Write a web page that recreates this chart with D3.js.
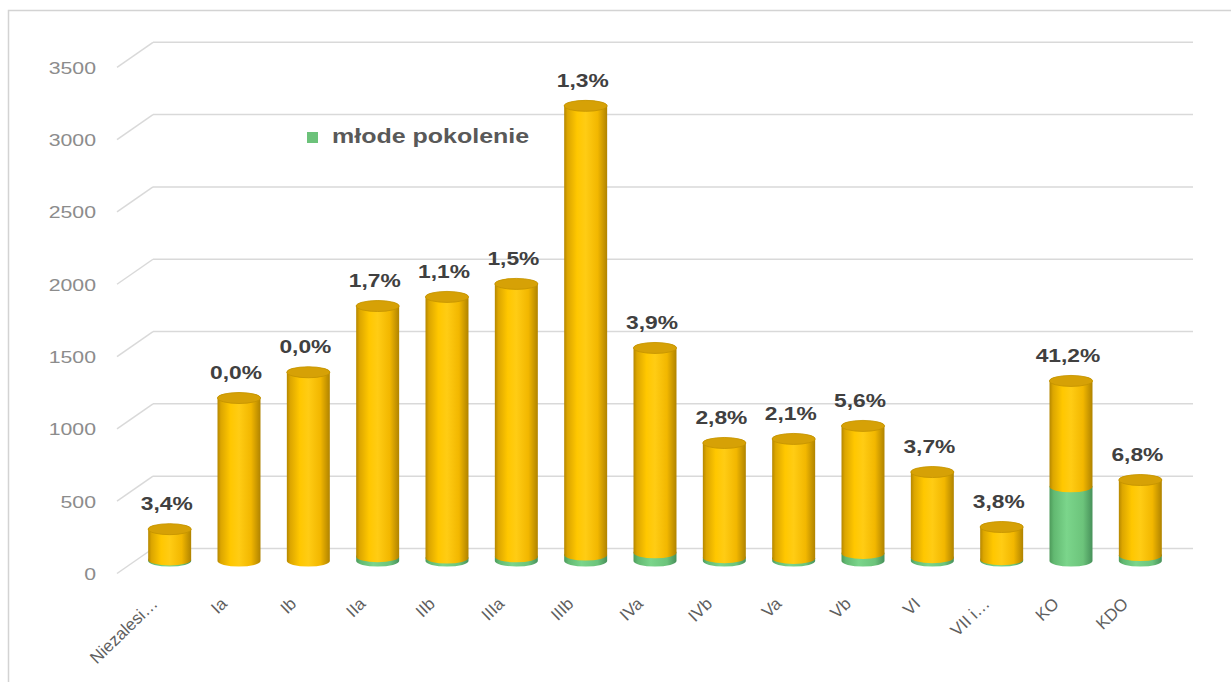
<!DOCTYPE html>
<html>
<head>
<meta charset="utf-8">
<script src="https://cdnjs.cloudflare.com/ajax/libs/d3/7.8.5/d3.min.js"></script>
<style>
  body { margin: 0; background: #fff; }
  text { font-family: "Liberation Sans", Arial, sans-serif; }
</style>
</head>
<body>
<svg id="chart" width="1231" height="682"></svg>
<script>
// categories and values
var categories = ["Niezalesi…", "Ia", "Ib", "IIa", "IIb", "IIIa", "IIIb", "IVa", "IVb", "Va", "Vb", "VI", "VII i…", "KO", "KDO"];
var totals = [220, 1127, 1305, 1763, 1826, 1916, 3147, 1473, 816, 844, 934, 615, 235, 1245, 560];
var young = [7, 0, 0, 30, 20, 29, 41, 57, 23, 18, 52, 23, 9, 513, 38];
var pctLabels = ["3,4%", "0,0%", "0,0%", "1,7%", "1,1%", "1,5%", "1,3%", "3,9%", "2,8%", "2,1%", "5,6%", "3,7%", "3,8%", "41,2%", "6,8%"];
var yTicks = [0, 500, 1000, 1500, 2000, 2500, 3000, 3500];
var legendLabel = "młode pokolenie";

var svg = d3.select("#chart")

// outer frame
svg.append("rect")
  .attr("x", 8.5).attr("y", 10.5)
  .attr("width", 1260).attr("height", 720)
  .style("fill", "#fff")
  .style("stroke", "#d3d3d3")
  .style("stroke-width", 1.5)

var wallLeft = 153, wallRight = 1193
var depthX = 36, depthY = 25   // floor depth of the 3d box

var y = d3.scaleLinear().domain([0, 3500]).range([548.5, 42.3])
var x = d3.scaleBand()
  .domain(categories)
  .range([wallLeft - depthX / 2, wallRight - depthX / 2])
  .paddingInner(0.38)
  .paddingOuter(0.19)

var rx = x.bandwidth() / 2, ry = 5.5
function yBar(v) { return y(v) + depthY / 2 }
function idx(d) { return categories.indexOf(d) }

// gradients for the cylinders
var defs = svg.append("defs")
function sideGradient(id, stops) {
  var g = defs.append("linearGradient").attr("id", id)
    .attr("x1", "0%").attr("x2", "100%").attr("y1", "0%").attr("y2", "0%")
  g.selectAll("stop").data(stops).enter().append("stop")
    .attr("offset", function(d) { return d[0] })
    .attr("stop-color", function(d) { return d[1] })
}
sideGradient("orangeSide", [["0%", "#b58700"], ["8%", "#dca600"], ["30%", "#ffc700"], ["50%", "#ffcc14"], ["78%", "#f2b700"], ["100%", "#b08300"]])
sideGradient("greenSide", [["0%", "#4d9a5a"], ["10%", "#62b971"], ["40%", "#7bd58b"], ["78%", "#6cc47b"], ["100%", "#47915a"]])

// gridlines on back wall + side wall
var grid = svg.append("g")
grid.selectAll("line.back")
  .data(yTicks)
  .enter()
  .append("line")
    .attr("class", "back")
    .attr("x1", wallLeft).attr("x2", wallRight)
    .attr("y1", function(d) { return y(d) }).attr("y2", function(d) { return y(d) })
    .style("stroke", "#d9d9d9").style("stroke-width", 1.5)
grid.selectAll("line.side")
  .data(yTicks)
  .enter()
  .append("line")
    .attr("class", "side")
    .attr("x1", wallLeft - depthX).attr("x2", wallLeft)
    .attr("y1", function(d) { return y(d) + depthY }).attr("y2", function(d) { return y(d) })
    .style("stroke", "#d9d9d9").style("stroke-width", 1.5)

// y axis labels
svg.selectAll("text.ytick")
  .data(yTicks)
  .enter()
  .append("text")
    .attr("class", "ytick")
    .attr("transform", function(d) { return "translate(96," + (y(d) + depthY + 2) + ") scale(1.25,1)" })
    .attr("text-anchor", "end")
    .attr("dominant-baseline", "middle")
    .style("font-size", "17px")
    .style("fill", "#8c8c8c")
    .text(function(d) { return d })

// cylinder pieces: green part at the bottom, orange on top
function sidePath(cx, v0, v1) {
  var b = yBar(v0), t = yBar(v1)
  return "M" + (cx - rx) + "," + t + " L" + (cx - rx) + "," + b +
    " A" + rx + "," + ry + " 0 0 0 " + (cx + rx) + "," + b +
    " L" + (cx + rx) + "," + t +
    " A" + rx + "," + ry + " 0 0 0 " + (cx - rx) + "," + t + " Z"
}

var bars = svg.selectAll("g.bar")
  .data(categories)
  .enter()
  .append("g")
    .attr("class", "bar")

bars.filter(function(d) { return young[idx(d)] > 0 })
  .append("path")
    .attr("d", function(d) { return sidePath(x(d) + rx, 0, young[idx(d)]) })
    .style("fill", "url(#greenSide)")

bars.append("path")
  .attr("d", function(d) { return sidePath(x(d) + rx, young[idx(d)], totals[idx(d)]) })
  .style("fill", "url(#orangeSide)")

bars.append("ellipse")
  .attr("cx", function(d) { return x(d) + rx })
  .attr("cy", function(d) { return yBar(totals[idx(d)]) })
  .attr("rx", rx).attr("ry", ry)
  .style("fill", "#d6a106")
  .style("stroke", "#c39200")
  .style("stroke-width", 0.8)

// percentage labels
bars.append("text")
  .attr("transform", function(d) { return "translate(" + (x(d) + rx - 3) + "," + (yBar(totals[idx(d)]) - 24) + ") scale(1.2,1)" })
  .attr("text-anchor", "middle")
  .attr("dominant-baseline", "middle")
  .style("font-size", "19px")
  .style("font-weight", "bold")
  .style("fill", "#404040")
  .text(function(d) { return pctLabels[idx(d)] })

// category labels, rotated
svg.selectAll("text.xlab")
  .data(categories)
  .enter()
  .append("text")
    .attr("class", "xlab")
    .attr("transform", function(d) { return "translate(" + (x(d) + rx - 11) + ",605) rotate(-44)" })
    .attr("text-anchor", "end")
    .style("font-size", "17px")
    .style("fill", "#5f5f5f")
    .text(function(d) { return d })

// legend
var legend = svg.append("g")
legend.append("rect")
  .attr("x", 307).attr("y", 132)
  .attr("width", 11).attr("height", 11)
  .style("fill", "#6cc27a")
legend.append("text")
  .attr("transform", "translate(332,138) scale(1.25,1)")
  .attr("dominant-baseline", "middle")
  .style("font-size", "20px")
  .style("font-weight", "bold")
  .style("fill", "#595959")
  .text(legendLabel)
</script>
</body>
</html>
